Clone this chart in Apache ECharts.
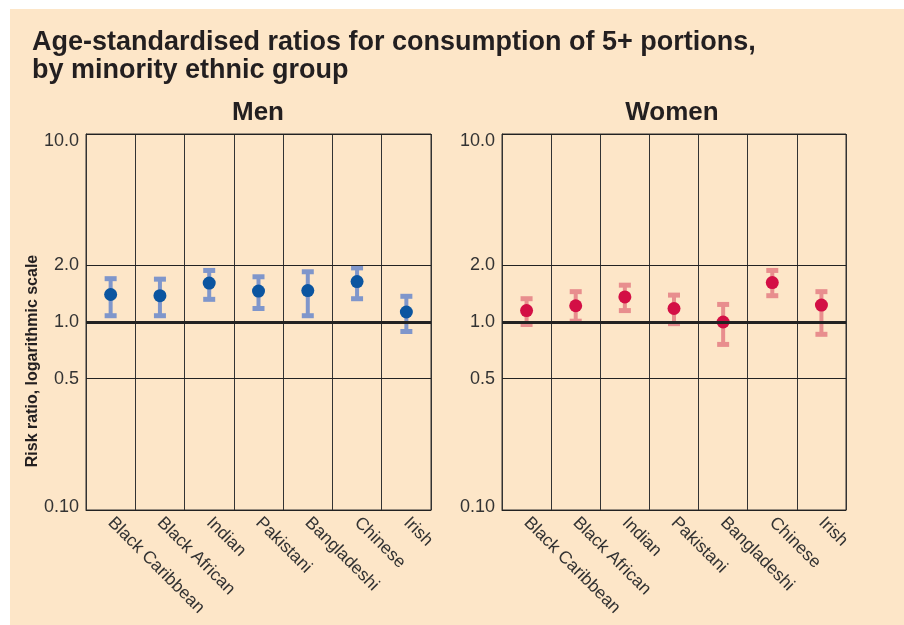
<!DOCTYPE html>
<html style="height: 100%">
<head>
    <meta charset="utf-8">
</head>
<body style="height: 100%; margin: 0; background: #fff">
<div id="container" style="width: 904px; height: 625px"></div>
<script type="text/javascript" src="https://cdn.jsdelivr.net/npm/echarts@6/dist/echarts.min.js"></script>
<script type="text/javascript">
    var categories = ['Black Caribbean', 'Black African', 'Indian', 'Pakistani', 'Bangladeshi', 'Chinese', 'Irish'];

    // risk ratio and 95% CI
    var menMid = [1.40, 1.38, 1.61, 1.46, 1.47, 1.64, 1.13];
    var menLow = [1.08, 1.08, 1.32, 1.18, 1.08, 1.33, 0.89];
    var menHigh = [1.70, 1.69, 1.88, 1.74, 1.85, 1.94, 1.37];

    var womenMid = [1.15, 1.22, 1.36, 1.18, 1.00, 1.62, 1.23];
    var womenLow = [0.97, 1.01, 1.15, 0.98, 0.76, 1.38, 0.86];
    var womenHigh = [1.33, 1.45, 1.57, 1.39, 1.24, 1.88, 1.45];

    var yTicks = [10, 2, 1, 0.5, 0.1];
    var yTickLabels = ['10.0', '2.0', '1.0', '0.5', '0.10'];

    var dom = document.getElementById("container");
    var myChart = echarts.init(dom);
    var font = 'Liberation Sans, Arial, sans-serif';
    var narrow = '"Liberation Sans Narrow", "Arial Narrow", sans-serif';

    function errorData(low, high) {
        var out = [];
        for (var i = 0; i < low.length; i++) {
            out.push([i, low[i], high[i]]);
        }
        return out;
    }

    function renderBar(color) {
        return function (params, api) {
            var top = api.coord([api.value(0), api.value(2)]);
            var bot = api.coord([api.value(0), api.value(1)]);
            var style = {stroke: color, lineWidth: 4};
            var capStyle = {stroke: color, lineWidth: 5};
            return {
                type: 'group',
                children: [
                    {type: 'line', shape: {x1: top[0], y1: top[1], x2: bot[0], y2: bot[1]}, style: style},
                    {type: 'line', shape: {x1: top[0] - 6, y1: top[1], x2: top[0] + 6, y2: top[1]}, style: capStyle},
                    {type: 'line', shape: {x1: bot[0] - 6, y1: bot[1], x2: bot[0] + 6, y2: bot[1]}, style: capStyle}
                ]
            };
        };
    }

    var refLines = [];
    for (var k = 0; k < yTicks.length; k++) {
        var off = 0;
        if (yTicks[k] === 10) off = 7;
        if (yTicks[k] === 0.1) off = -3;
        refLines.push({
            yAxis: yTicks[k],
            lineStyle: {color: '#222', width: yTicks[k] === 1 ? 3 : 1, type: 'solid'},
            label: {formatter: yTickLabels[k], offset: [0, off]}
        });
    }

    function markLines() {
        return {
            silent: true,
            symbol: 'none',
            animation: false,
            label: {show: true, position: 'start', distance: 7, color: '#333', fontSize: 18, fontFamily: font},
            data: refLines
        };
    }

    function xAxis(gi) {
        return {
            type: 'category',
            gridIndex: gi,
            data: categories,
            axisTick: {show: false},
            axisLine: {lineStyle: {color: '#333', width: 1}},
            axisLabel: {rotate: -45, margin: 10, color: '#333', fontSize: 17.5, fontFamily: font},
            splitLine: {show: true, lineStyle: {color: '#333', width: 1}}
        };
    }

    function yAxis(gi) {
        return {
            type: 'log',
            logBase: 10,
            gridIndex: gi,
            min: 0.1,
            max: 10,
            axisLabel: {show: false},
            axisTick: {show: false},
            splitLine: {show: false},
            axisLine: {show: true, lineStyle: {color: '#333', width: 1}}
        };
    }

    option = {
        animation: false,
        graphic: [
            {type: 'rect', z: -10, shape: {x: 10, y: 9, width: 894, height: 616}, style: {fill: '#fde6c8'}},
            {type: 'text', x: 32, y: 29, style: {text: 'Age-standardised ratios for consumption of 5+ portions,\nby minority ethnic group', font: 'bold 27px ' + font, fill: '#231f20', lineHeight: 28, verticalAlign: 'top'}},
            {type: 'text', x: 258, y: 113, style: {text: 'Men', font: 'bold 26px ' + font, fill: '#231f20', align: 'center', verticalAlign: 'middle'}},
            {type: 'text', x: 672, y: 113, style: {text: 'Women', font: 'bold 26px ' + font, fill: '#231f20', align: 'center', verticalAlign: 'middle'}},
            {type: 'text', x: 33, y: 361, rotation: Math.PI / 2, style: {text: 'Risk ratio, logarithmic scale', font: 'bold 16px ' + narrow, fill: '#231f20', align: 'center', verticalAlign: 'middle'}}
        ],
        grid: [
            {left: 86, top: 134, width: 345, height: 376, show: true, borderColor: '#333', borderWidth: 1},
            {left: 502, top: 134, width: 344, height: 376, show: true, borderColor: '#333', borderWidth: 1}
        ],
        xAxis: [xAxis(0), xAxis(1)],
        yAxis: [yAxis(0), yAxis(1)],
        series: [
            {
                type: 'custom',
                name: 'men ci',
                xAxisIndex: 0,
                yAxisIndex: 0,
                renderItem: renderBar('#7f96cb'),
                data: errorData(menLow, menHigh),
                markLine: markLines(),
                z: 3
            },
            {
                type: 'scatter',
                name: 'men',
                xAxisIndex: 0,
                yAxisIndex: 0,
                symbolSize: 13,
                itemStyle: {color: '#0b55a0', opacity: 1},
                data: menMid,
                z: 4
            },
            {
                type: 'custom',
                name: 'women ci',
                xAxisIndex: 1,
                yAxisIndex: 1,
                renderItem: renderBar('#e88e8e'),
                data: errorData(womenLow, womenHigh),
                markLine: markLines(),
                z: 3
            },
            {
                type: 'scatter',
                name: 'women',
                xAxisIndex: 1,
                yAxisIndex: 1,
                symbolSize: 13,
                itemStyle: {color: '#d30f45', opacity: 1},
                data: womenMid,
                z: 4
            }
        ]
    };
    if (option && typeof option === 'object') {
        myChart.setOption(option);
    }
</script>
</body>
</html>
